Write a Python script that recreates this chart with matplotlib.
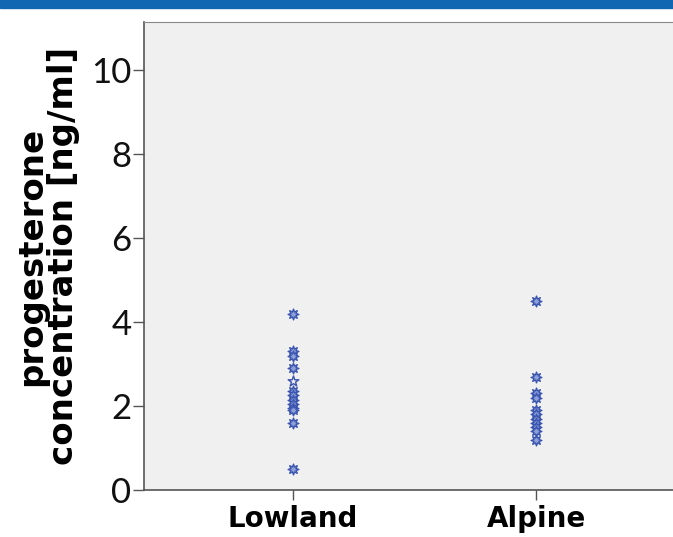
import matplotlib.pyplot as plt
from matplotlib.patches import Rectangle

# progesterone values (ng/ml)
groups = ["Lowland", "Alpine"]
lowland_vals = [4.2, 3.3, 3.2, 2.9, 2.35, 2.25, 2.15, 2.05, 1.95, 1.9, 1.6, 0.5]
lowland_star = [2.6]
alpine_vals = [4.5, 2.7, 2.3, 2.2, 1.9, 1.8, 1.7, 1.6, 1.5, 1.4, 1.2]
yticks = [0, 2, 4, 6, 8, 10]

fig = plt.figure(figsize=(6.73, 5.37), dpi=100)
fig.patches.append(Rectangle((0, 529 / 537), 1, 8 / 537, transform=fig.transFigure,
                             color="#1167b1", zorder=0))

ax = fig.add_axes([144 / 673, 47 / 537, 541 / 673, 468 / 537])
ax.set_facecolor("#f0f0f0")

mk = dict(marker=(8, 1, 0), s=60, facecolor="#8ea0d8", edgecolor="#3a55b0",
          linewidth=1.0, zorder=3)
ax.scatter([0] * len(lowland_vals), lowland_vals, **mk)
ax.scatter([0] * len(lowland_star), lowland_star, marker="*", s=65,
           facecolor="#f0f0f0", edgecolor="#3a55b0", linewidth=1.0, zorder=3)
ax.scatter([1] * len(alpine_vals), alpine_vals, **mk)

ax.set_xlim(-0.613, 1.613)
ax.set_ylim(0, 11.14)
ax.set_yticks(yticks)
ax.set_yticklabels([str(v) for v in yticks], fontsize=25, family="Lato",
                   fontweight="normal", color="#111111")
ax.set_xticks([0, 1])
ax.set_xticklabels(groups, fontsize=20, fontweight="bold", family="DejaVu Sans")
ax.tick_params(axis="y", length=8, width=1, color="#555555", pad=1)
ax.tick_params(axis="x", length=7, width=1, color="#555555", pad=4)

for side in ["left", "bottom"]:
    ax.spines[side].set_color("#555555")
    ax.spines[side].set_linewidth(1.2)
ax.spines["top"].set_color("#888888")
ax.spines["right"].set_visible(False)

ax.set_ylabel("progesterone\nconcentration [ng/ml]", fontsize=24.5,
              fontweight="bold", linespacing=0.95, labelpad=8)

fig.savefig("out.png", dpi=100)
